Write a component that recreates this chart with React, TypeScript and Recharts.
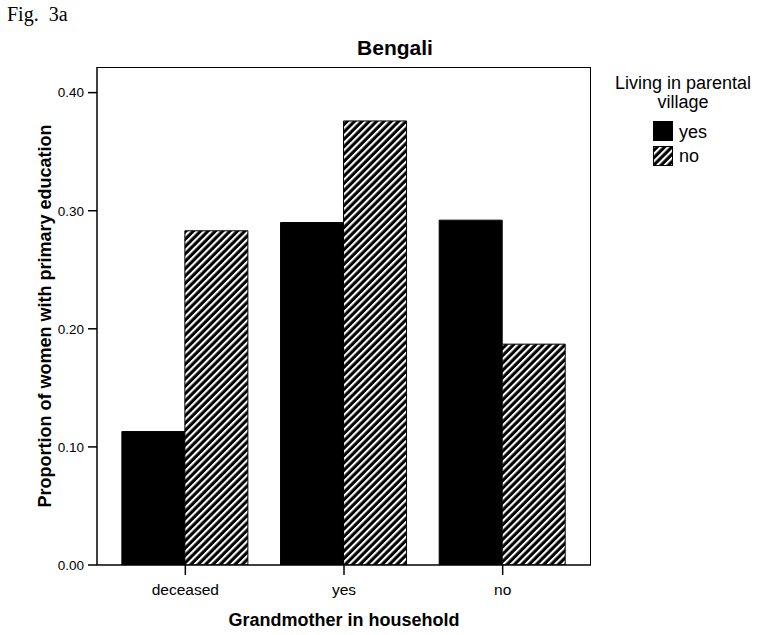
import React from 'react';
import { BarChart, Bar, XAxis, YAxis, Label } from 'recharts';

const categories = ['deceased', 'yes', 'no'];
const livingYes = [0.113, 0.29, 0.292];
const livingNo = [0.283, 0.376, 0.187];
const yTicks = [0, 0.1, 0.2, 0.3, 0.4];
const yMax = 0.4217;

const data = categories.map((grandmother, i) => ({
    grandmother,
    yes: livingYes[i],
    no: livingNo[i],
}));

const FONT = '"Liberation Sans", Arial, Helvetica, sans-serif';

const Hatch = ({ id }: { id: string }) => (
    <pattern id={id} patternUnits="userSpaceOnUse" width={5.2} height={10} patternTransform="rotate(45)">
        <rect x={0} y={0} width={5.2} height={10} fill="#000" />
        <rect x={0} y={0} width={2.1} height={10} fill="#fff" />
    </pattern>
);

// legend drawn by hand so it does not eat into the plot area
const LegendBox = () => (
    <div style={{ position: 'absolute', left: 600, top: 70, width: 166, height: 110, fontFamily: FONT, color: '#000' }}>
        <div style={{ position: 'absolute', top: 4.2, left: 0, width: 166, textAlign: 'center', fontSize: 18, lineHeight: '18.5px' }}>
            Living in parental
            <br />
            village
        </div>
        <svg style={{ position: 'absolute', left: 53, top: 50.5 }} width={20} height={20}>
            <rect x={0.5} y={0.5} width={19} height={19} fill="#000" stroke="#000" />
        </svg>
        <div style={{ position: 'absolute', left: 79, top: 51.5, fontSize: 18, lineHeight: '20px' }}>yes</div>
        <svg style={{ position: 'absolute', left: 53, top: 76 }} width={20} height={20}>
            <defs>
                <Hatch id="hatch-legend" />
            </defs>
            <rect x={0.5} y={0.5} width={19} height={19} fill="url(#hatch-legend)" stroke="#000" />
        </svg>
        <div style={{ position: 'absolute', left: 79, top: 75.5, fontSize: 18, lineHeight: '20px' }}>no</div>
    </div>
);

export default function App() {
    return (
        <div style={{ position: 'absolute', left: 0, top: 0, width: 763, height: 635, background: '#fff' }}>
            <div style={{ position: 'absolute', left: 7, top: 3, fontFamily: '"Liberation Serif", "Times New Roman", serif', fontSize: 20, whiteSpace: 'pre' }}>
                Fig.  3a
            </div>
            <div style={{ position: 'absolute', left: 295, top: 36, width: 200, textAlign: 'center', fontFamily: FONT, fontWeight: 700, fontSize: 21 }}>
                Bengali
            </div>
            <BarChart
                width={763}
                height={635}
                data={data}
                margin={{ top: 67, right: 172, bottom: 0, left: 0 }}
                barCategoryGap="10%"
                barGap={0}
                style={{ fontFamily: FONT }}
            >
                <defs>
                    <Hatch id="hatch" />
                </defs>
                <XAxis
                    dataKey="grandmother"
                    padding={{ left: 9, right: 9 }}
                    tick={{ fill: '#000', fontSize: 15.5 }}
                    tickSize={10}
                    tickMargin={9}
                    axisLine={{ stroke: '#000', strokeWidth: 1.5 }}
                    tickLine={{ stroke: '#000', strokeWidth: 1.5 }}
                    height={70}
                >
                    <Label
                        content={({ viewBox }: any) => (
                            <text
                                x={viewBox.x + viewBox.width / 2}
                                y={viewBox.y + 61}
                                textAnchor="middle"
                                fontWeight={700}
                                fontSize={18}
                                fill="#000"
                            >
                                Grandmother in household
                            </text>
                        )}
                    />
                </XAxis>
                <YAxis
                    width={97}
                    domain={[0, yMax]}
                    ticks={yTicks}
                    tickFormatter={(v: number) => v.toFixed(2)}
                    tick={{ fill: '#000', fontSize: 13.5 }}
                    tickSize={9}
                    tickMargin={4}
                    axisLine={{ stroke: '#000', strokeWidth: 1.5 }}
                    tickLine={{ stroke: '#000', strokeWidth: 1.5 }}
                    allowDataOverflow
                >
                    <Label
                        content={({ viewBox }: any) => {
                            const cx = viewBox.x + 45;
                            const cy = viewBox.y + viewBox.height / 2;
                            return (
                                <text
                                    x={cx}
                                    y={cy}
                                    transform={`rotate(-90 ${cx} ${cy})`}
                                    textAnchor="middle"
                                    dominantBaseline="central"
                                    fontWeight={700}
                                    fontSize={18}
                                    fill="#000"
                                >
                                    Proportion of women with primary education
                                </text>
                            );
                        }}
                    />
                </YAxis>
                <Bar dataKey="yes" fill="#000" stroke="#000" strokeWidth={1} isAnimationActive={false} />
                <Bar dataKey="no" fill="url(#hatch)" stroke="#000" strokeWidth={1} isAnimationActive={false} />
            </BarChart>
            <LegendBox />
            <div
                style={{
                    position: 'absolute',
                    left: 97,
                    top: 67,
                    width: 494,
                    height: 498,
                    boxSizing: 'border-box',
                    borderTop: '1.5px solid #000',
                    borderRight: '1.5px solid #000',
                    pointerEvents: 'none',
                }}
            />
        </div>
    );
}
